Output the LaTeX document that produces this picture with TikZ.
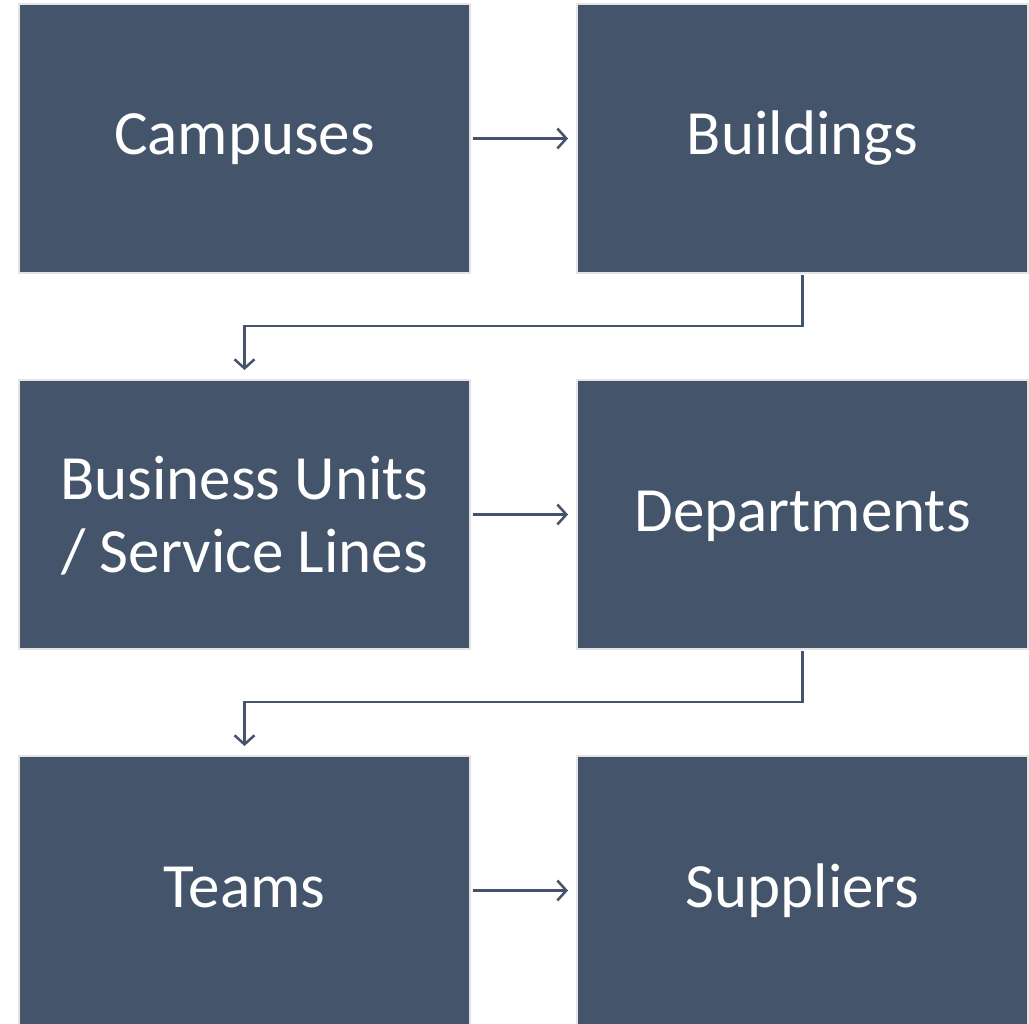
\documentclass[tikz,border=0pt]{standalone}
\usepackage{fontspec}
\setmainfont{Carlito}
\usetikzlibrary{arrows.meta}
\definecolor{slate}{HTML}{44546A}
\definecolor{rim}{HTML}{E4E4E4}
\tikzset{
  unit/.style={rectangle, fill=slate, draw=rim, line width=2pt, text=white,
    minimum width=451pt, minimum height=269pt, inner sep=0pt, align=center,
    font=\fontsize{63}{73}\selectfont},
  oneline/.style={unit, text height=49pt, text depth=16pt},
  twoline/.style={unit, text depth=0pt},
  flow/.style={draw=slate, line width=2.5pt,
    -{Straight Barb[length=9pt,width=20pt,line width=2.5pt]}}
}
\begin{document}
\begin{tikzpicture}
  \useasboundingbox (0,0) rectangle (1029pt,-1024pt);
  \node[oneline] (camp) at (244.5pt,-138.5pt) {Campuses};
  \node[oneline] (bld)  at (802.5pt,-138.5pt) {Buildings};
  \node[twoline] (bu)   at (244.5pt,-514.5pt) {Business Units\\/ Service Lines};
  \node[oneline] (dept) at (802.5pt,-514.5pt) {Departments};
  \node[oneline] (team) at (244.5pt,-890.5pt) {Teams};
  \node[oneline] (supp) at (802.5pt,-890.5pt) {Suppliers};
  \draw[flow] ([xshift=2pt]camp.east) -- ([xshift=-8pt]bld.west);
  \draw[flow] ([xshift=2pt]bu.east) -- ([xshift=-8pt]dept.west);
  \draw[flow] ([xshift=2pt]team.east) -- ([xshift=-8pt]supp.west);
  \draw[flow] ([yshift=-1pt]bld.south) -- ++(0,-51pt) -| ([yshift=9pt]bu.north);
  \draw[flow] ([yshift=-1pt]dept.south) -- ++(0,-51pt) -| ([yshift=9pt]team.north);
\end{tikzpicture}
\end{document}
